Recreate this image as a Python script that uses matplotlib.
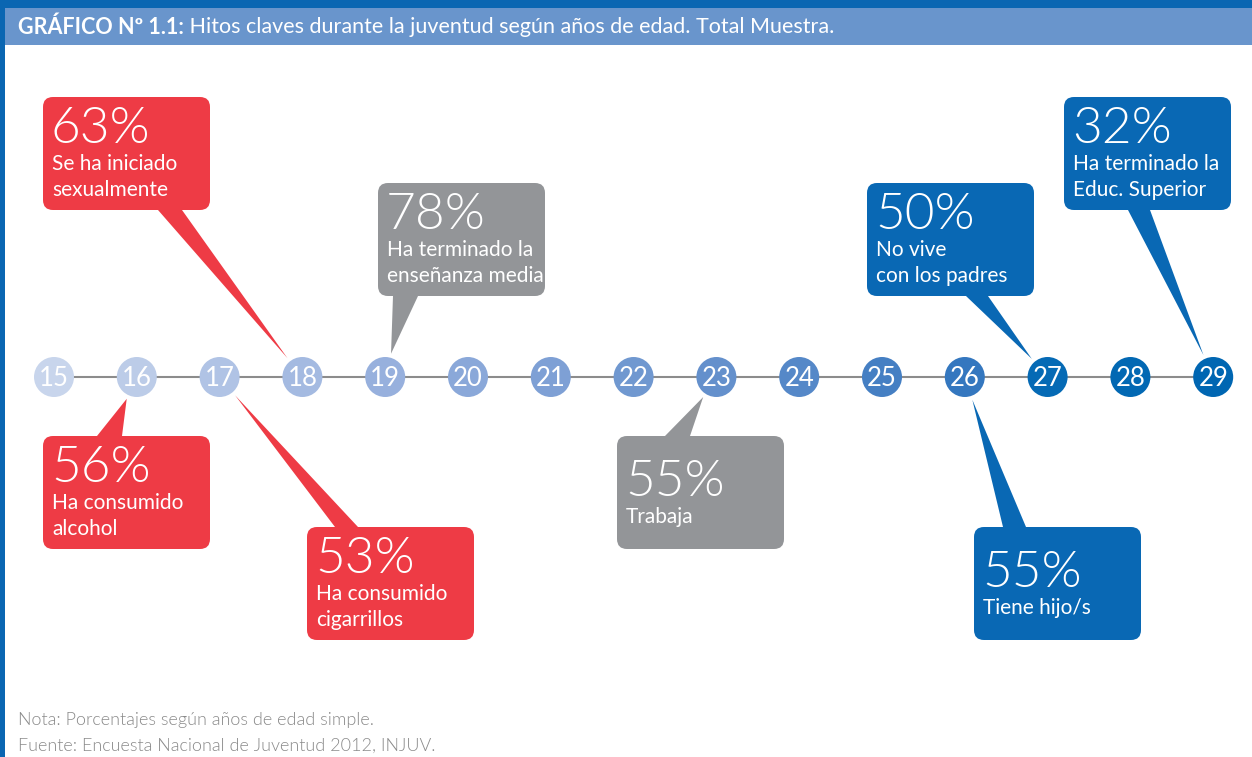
import numpy as np
import matplotlib
matplotlib.use("Agg")
import matplotlib.pyplot as plt
from matplotlib.patches import FancyBboxPatch, Polygon, Rectangle
from matplotlib.colors import LinearSegmentedColormap

# Data
ages = list(range(15, 30))
hito_ages = [18, 19, 27, 29, 16, 17, 23, 26]
hito_pcts = [63, 78, 50, 32, 56, 53, 55, 55]
hito_labels = [
    "Se ha iniciado\nsexualmente",
    "Ha terminado la\nenseñanza media",
    "No vive\ncon los padres",
    "Ha terminado la\nEduc. Superior",
    "Ha consumido\nalcohol",
    "Ha consumido\ncigarrillos",
    "Trabaja",
    "Tiene hijo/s",
]

title_bold = "GRÁFICO Nº 1.1:"
title_rest = " Hitos claves durante la juventud según años de edad. Total Muestra."
note_lines = [
    "Nota: Porcentajes según años de edad simple.",
    "Fuente: Encuesta Nacional de Juventud 2012, INJUV.",
]

# Layout (pixels): box left, box top, pointer base x0, x1, side, colour
RED, GRAY, BLUE = "#ee3b45", "#939598", "#0968b4"
box_layout = [
    (43, 97, 158, 182, "bottom", RED),
    (378, 183, 393, 418, "bottom", GRAY),
    (867, 183, 966, 988, "bottom", BLUE),
    (1064, 97, 1128, 1150, "bottom", BLUE),
    (43, 436, 97, 122, "top", RED),
    (307, 527, 335, 358, "top", RED),
    (617, 436, 665, 690, "top", GRAY),
    (974, 527, 1003, 1026, "top", BLUE),
]
BOX_W, BOX_H = 167, 113

W, H = 1252, 757
LINE_Y = 377
X15, STEP = 54, 82.8

fam = ["Lato", "DejaVu Sans"]
plt.rcParams["font.family"] = fam

fig = plt.figure(figsize=(W / 100, H / 100), dpi=100)
fig.patch.set_facecolor("white")

# layout axes in pixel coords
lay = fig.add_axes([0, 0, 1, 1])
lay.set_xlim(0, W)
lay.set_ylim(H, 0)
lay.axis("off")

# age axes: x in years
ax = fig.add_axes([0, 0, 1, 1], zorder=2)
ax.set_xlim(15 - X15 / STEP, 15 + (W - X15) / STEP)
ax.set_ylim(H, 0)
ax.axis("off")
ax.patch.set_alpha(0)

# header
lay.add_patch(Rectangle((0, 0), W, 8, color="#0a66b2", lw=0))
lay.add_patch(Rectangle((5, 8), W, 37, color="#6995cc", lw=0))
lay.add_patch(Rectangle((0, 0), 5, H, color="#0a66b2", lw=0))
t = lay.text(18, 27, title_bold, color="white", fontsize=15.5,
             fontweight="bold", va="center", ha="left")
fig.canvas.draw()
bb = t.get_window_extent()
x_end = lay.transData.inverted().transform((bb.x1, bb.y0))[0]
lay.text(x_end, 27, title_rest, color="white", fontsize=15.5,
         va="center", ha="left")

# timeline
cmap = LinearSegmentedColormap.from_list(
    "edad", [(0, "#c8d5ec"), (4 / 14, "#97b0dd"), (8 / 14, "#6490cc"),
             (11 / 14, "#3677bf"), (12 / 14, "#056ab5"), (1, "#0066b2")])
ax.plot([ages[0], ages[-1]], [LINE_Y, LINE_Y], color="#8c8c8c", lw=1.5, zorder=1)
cols = [cmap((a - 15) / 14) for a in ages]
ax.scatter(ages, [LINE_Y] * len(ages), s=(40 * 0.72) ** 2, c=cols,
           edgecolors="none", zorder=2)
for a in ages:
    ax.text(a, LINE_Y + 1, str(a), color="white", fontsize=18.5,
            ha="center", va="center", zorder=3)

# callouts
to_lay = lambda p: lay.transData.inverted().transform(ax.transData.transform(p))
for age, pct, lab, (bx, by, p0, p1, side, col) in zip(
        hito_ages, hito_pcts, hito_labels, box_layout):
    cx, cy = to_lay((age, LINE_Y))
    base_y = by + BOX_H if side == "bottom" else by
    mid = np.array([(p0 + p1) / 2, base_y])
    v = mid - np.array([cx, cy])
    v = v / np.hypot(*v)
    tip = np.array([cx, cy]) + v * 24
    lay.add_patch(Polygon([(p0, base_y), (p1, base_y), tuple(tip)],
                          closed=True, color=col, lw=0, zorder=3))
    lay.add_patch(FancyBboxPatch((bx + 10, by + 10), BOX_W - 20, BOX_H - 20,
                                 boxstyle="round,pad=10,rounding_size=10",
                                 color=col, lw=0, zorder=3))
    nlines = lab.count("\n") + 1
    ny = by + 32 if nlines == 2 else by + 46
    lay.text(bx + 8, ny, f"{pct}%", color="white", fontsize=37,
             fontweight=300, ha="left", va="center", zorder=4)
    lay.text(bx + 9, ny + 25, lab, color="white", fontsize=15,
             ha="left", va="top", linespacing=1.4, zorder=4)

# notes
for i, line in enumerate(note_lines):
    lay.text(18, 720 + 26 * i, line, color="#8a8a8a", fontsize=13,
             fontweight=300, ha="left", va="center")

fig.savefig("out.png", dpi=100)
